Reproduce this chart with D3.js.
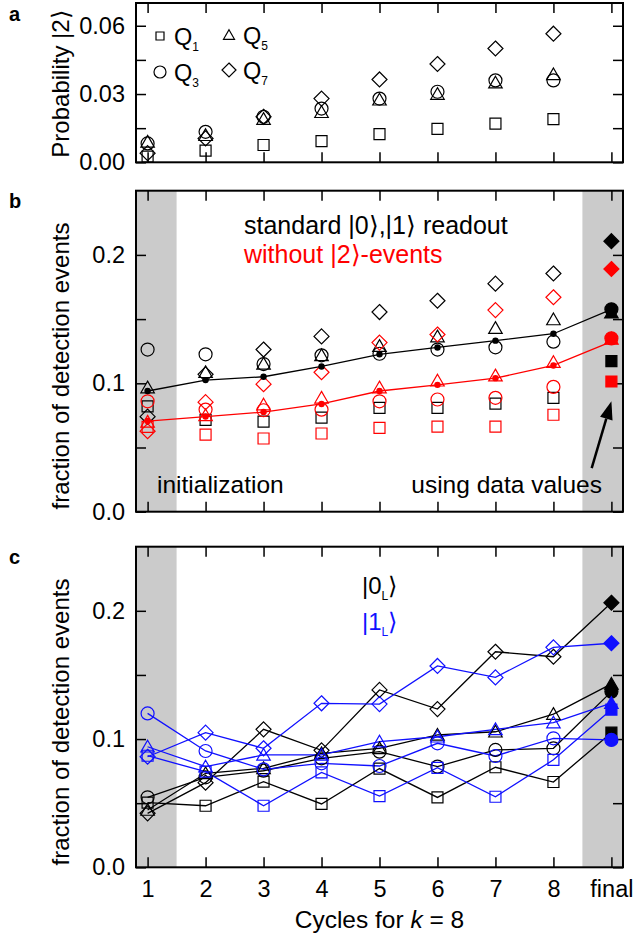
<!DOCTYPE html>
<html>
<head>
<meta charset="utf-8">
<script src="https://cdn.jsdelivr.net/npm/d3@7"></script>
<style>
  html, body { margin: 0; padding: 0; background: #fff; }
  svg { display: block; }
  text { font-family: "Liberation Sans", Arial, Helvetica, sans-serif; fill: #000; }
</style>
</head>
<body>
<svg id="chart" width="634" height="934"></svg>
<script>
// ---- cycle axis ----
const cycles = [1, 2, 3, 4, 5, 6, 7, 8, 9];
const cycleLabels = ["1", "2", "3", "4", "5", "6", "7", "8", "final"];

// ---- (a) leakage probability per qubit, cycles 1..8 ----
const probQ1 = [0.0025, 0.0051, 0.0076, 0.0093, 0.0124, 0.0147, 0.0170, 0.0190];
const probQ3 = [0.0083, 0.0134, 0.0200, 0.0236, 0.0280, 0.0310, 0.0360, 0.0360];
const probQ5 = [0.0090, 0.0119, 0.0190, 0.0220, 0.0275, 0.0300, 0.0350, 0.0386];
const probQ7 = [0.0040, 0.0105, 0.0200, 0.0280, 0.0364, 0.0432, 0.0500, 0.0565];

// ---- (b) detection fraction, standard |0>,|1> readout (cycles 1..8, final) ----
const stdQ1 = [0.0821, 0.0715, 0.0702, 0.0733, 0.0808, 0.0808, 0.0842, 0.0887, 0.1173];
const stdQ3 = [0.1263, 0.1226, 0.1150, 0.1218, 0.1230, 0.1263, 0.1280, 0.1324, 0.1576];
const stdQ5 = [0.0967, 0.1086, 0.1152, 0.1218, 0.1290, 0.1364, 0.1430, 0.1497, 0.1550];
const stdQ7 = [0.0740, 0.1070, 0.1263, 0.1365, 0.1555, 0.1643, 0.1776, 0.1855, 0.2107];
const stdMean = [0.0940, 0.1025, 0.1051, 0.1131, 0.1226, 0.1279, 0.1332, 0.1386, 0.1576];

// ---- (b) detection fraction without |2>-events ----
const noQ1 = [0.0660, 0.0600, 0.0570, 0.0609, 0.0653, 0.0662, 0.0662, 0.0755, 0.1014];
const noQ3 = [0.0860, 0.0795, 0.0790, 0.0795, 0.0860, 0.0874, 0.0887, 0.0972, 0.1350];
const noQ5 = [0.0700, 0.0750, 0.0834, 0.0887, 0.0967, 0.1020, 0.1060, 0.1165, 0.1345];
const noQ7 = [0.0627, 0.0853, 0.0993, 0.1086, 0.1317, 0.1380, 0.1570, 0.1670, 0.1890];
const noMean = [0.0706, 0.0741, 0.0776, 0.0839, 0.0940, 0.0988, 0.1040, 0.1139, 0.1324];

// ---- (c) detection fraction for logical |0_L> ----
const zeroQ1 = [0.0504, 0.0480, 0.0668, 0.0494, 0.0770, 0.0545, 0.0780, 0.0665, 0.1050];
const zeroQ3 = [0.0546, 0.0702, 0.0753, 0.0850, 0.0902, 0.0785, 0.0915, 0.0928, 0.1370];
const zeroQ5 = [0.0447, 0.0733, 0.0772, 0.0889, 0.0928, 0.1032, 0.1057, 0.1195, 0.1430];
const zeroQ7 = [0.0421, 0.0660, 0.1076, 0.0912, 0.1383, 0.1234, 0.1681, 0.1642, 0.2063];

// ---- (c) detection fraction for logical |1_L> ----
const oneQ1 = [0.0870, 0.0746, 0.0480, 0.0740, 0.0555, 0.0776, 0.0550, 0.0838, 0.1230];
const oneQ3 = [0.1200, 0.0907, 0.0764, 0.0811, 0.0790, 0.0967, 0.0868, 0.1006, 0.0993];
const oneQ5 = [0.0940, 0.0785, 0.0876, 0.0876, 0.0980, 0.1018, 0.1076, 0.1128, 0.1280];
const oneQ7 = [0.0862, 0.1050, 0.0928, 0.1279, 0.1273, 0.1570, 0.1481, 0.1715, 0.1747];

const yTicksA = [0, 0.015, 0.03, 0.045, 0.06];
const yTicksBC = [0, 0.05, 0.1, 0.15, 0.2];

const RED = "#ff0000", BLUE = "#1010ff", BLACK = "#000000";

const svg = d3.select("#chart");

const x = d3.scaleLinear().domain([0.8, 9.2]).range([136, 623]);

const panels = {
  a: { top: 3, bottom: 162.3, domain: [0, 0.07] },
  b: { top: 190.7, bottom: 511.7, domain: [0, 0.25] },
  c: { top: 546.7, bottom: 867.3, domain: [0, 0.25] }
};
for (const k in panels) {
  const p = panels[k];
  p.y = d3.scaleLinear().domain(p.domain).range([p.bottom, p.top]);
}

// marker outlines, centred on the data point
function shapePath(type, size) {
  const h = size / 2;
  if (type === "square") return `M${-h},${-h}H${h}V${h}H${-h}Z`;
  if (type === "circle") return `M${h},0A${h},${h} 0 1,1 ${-h},0A${h},${h} 0 1,1 ${h},0Z`;
  if (type === "triangle") {
    const th = size * 0.866;
    return `M0,${-th * 0.55}L${h},${th * 0.45}L${-h},${th * 0.45}Z`;
  }
  if (type === "diamond") return `M0,${-h}L${h},0L0,${h}L${-h},0Z`;
  return "";
}
const markerSize = { square: 11, circle: 13, triangle: 13.5, diamond: 15 };

function drawMarkers(g, p, values, type, color, filledLast) {
  g.selectAll(null)
    .data(values.map((v, i) => ({ c: cycles[i], v, last: filledLast && i === values.length - 1 })))
    .join("path")
    .attr("d", shapePath(type, markerSize[type]))
    .attr("transform", d => `translate(${x(d.c)},${p.y(d.v)})`)
    .attr("fill", d => d.last ? color : "none")
    .attr("stroke", color)
    .attr("stroke-width", 1.2);
}

function drawLine(g, p, values, color) {
  const line = d3.line().x((d, i) => x(cycles[i])).y(d => p.y(d));
  g.append("path").attr("d", line(values))
    .attr("fill", "none").attr("stroke", color).attr("stroke-width", 1.3);
}

function drawFrame(p, yTicks, majorFmt, showX, grayBands) {
  const g = svg.append("g");
  if (grayBands) {
    [[0.8, 1.5], [8.5, 9.2]].forEach(([a, b]) => {
      g.append("rect").attr("x", x(a)).attr("y", p.top)
        .attr("width", x(b) - x(a)).attr("height", p.bottom - p.top)
        .attr("fill", "#cbcbcb");
    });
  }
  const left = d3.axisLeft(p.y).tickValues(yTicks).tickSizeInner(-10).tickSizeOuter(0).tickPadding(11).tickFormat(majorFmt);
  const right = d3.axisRight(p.y).tickValues(yTicks).tickSizeInner(-10).tickSizeOuter(0).tickFormat("");
  const bottom = d3.axisBottom(x).tickValues(cycles).tickSizeInner(-10).tickSizeOuter(0).tickPadding(13)
    .tickFormat(showX ? ((d, i) => cycleLabels[i]) : "");
  const top = d3.axisTop(x).tickValues(cycles).tickSizeInner(-10).tickSizeOuter(0).tickFormat("");
  const axes = [
    g.append("g").attr("transform", `translate(${x.range()[0]},0)`).call(left),
    g.append("g").attr("transform", `translate(${x.range()[1]},0)`).call(right),
    g.append("g").attr("transform", `translate(0,${p.bottom})`).call(bottom),
    g.append("g").attr("transform", `translate(0,${p.top})`).call(top)
  ];
  axes.forEach(a => {
    a.select(".domain").remove();
    a.selectAll(".tick line").attr("stroke", "#000").attr("stroke-width", 1.5);
    a.selectAll(".tick text").attr("font-size", 23.5).attr("font-family", "Liberation Sans, Arial, sans-serif").attr("fill", "#000");
  });
  return g;
}

function drawBorder(p) {
  svg.append("rect").attr("x", x.range()[0]).attr("y", p.top)
    .attr("width", x.range()[1] - x.range()[0]).attr("height", p.bottom - p.top)
    .attr("fill", "none").attr("stroke", "#000").attr("stroke-width", 2);
}

function yLabel(text, cx, cy) {
  return svg.append("text")
    .attr("transform", `translate(${cx},${cy}) rotate(-90)`)
    .attr("text-anchor", "middle").attr("font-size", 24).text(text);
}

function panelLetter(t, px, py) {
  svg.append("text").attr("x", px).attr("y", py).attr("font-size", 20)
    .attr("font-weight", "bold").text(t);
}

// ================= panel a =================
{
  const p = panels.a;
  const majors = [0, 0.03, 0.06];
  drawFrame(p, yTicksA, v => majors.some(m => Math.abs(m - v) < 1e-9) ? d3.format(".2f")(v) : "", false, false);
  const g = svg.append("g");
  drawMarkers(g, p, probQ1, "square", BLACK, false);
  drawMarkers(g, p, probQ3, "circle", BLACK, false);
  drawMarkers(g, p, probQ5, "triangle", BLACK, false);
  drawMarkers(g, p, probQ7, "diamond", BLACK, false);
  drawBorder(p);
  yLabel("Probability |2\u27E9", 69, 84);
  panelLetter("a", 9, 21);

  // legend
  const leg = svg.append("g");
  const items = [
    { type: "square", size: 8, sub: "1", lx: 160, ly: 36 },
    { type: "triangle", size: 11, sub: "5", lx: 229, ly: 35 },
    { type: "circle", size: 12, sub: "3", lx: 160, ly: 72 },
    { type: "diamond", size: 14, sub: "7", lx: 229, ly: 70 }
  ];
  items.forEach(it => {
    leg.append("path").attr("d", shapePath(it.type, it.size))
      .attr("transform", `translate(${it.lx},${it.ly})`)
      .attr("fill", "none").attr("stroke", "#000").attr("stroke-width", 1.2);
    const t = leg.append("text").attr("x", it.lx + 14).attr("y", it.ly + 9).attr("font-size", 23.5);
    t.append("tspan").text("Q");
    t.append("tspan").attr("font-size", 12).attr("dy", 6).text(it.sub);
  });
}

// ================= panel b =================
{
  const p = panels.b;
  drawFrame(p, yTicksBC, v => [0, 0.1, 0.2].some(m => Math.abs(m - v) < 1e-9) ? d3.format(".1f")(v) : "", false, true);
  const g = svg.append("g");
  drawMarkers(g, p, stdQ1, "square", BLACK, true);
  drawMarkers(g, p, stdQ3, "circle", BLACK, true);
  drawMarkers(g, p, stdQ5, "triangle", BLACK, true);
  drawMarkers(g, p, stdQ7, "diamond", BLACK, true);
  drawMarkers(g, p, noQ1, "square", RED, true);
  drawMarkers(g, p, noQ3, "circle", RED, true);
  drawMarkers(g, p, noQ5, "triangle", RED, true);
  drawMarkers(g, p, noQ7, "diamond", RED, true);
  drawLine(g, p, stdMean, BLACK);
  drawLine(g, p, noMean, RED);
  [[stdMean, BLACK], [noMean, RED]].forEach(([vals, col]) => {
    g.selectAll(null).data(vals).join("circle")
      .attr("cx", (d, i) => x(cycles[i])).attr("cy", d => p.y(d))
      .attr("r", 3.2).attr("fill", col);
  });
  drawBorder(p);

  svg.append("text").attr("x", 244).attr("y", 234).attr("font-size", 25)
    .text("standard |0\u27E9,|1\u27E9 readout");
  svg.append("text").attr("x", 244).attr("y", 263).attr("font-size", 25)
    .style("fill", RED).text("without |2\u27E9-events");
  svg.append("text").attr("x", 157).attr("y", 493).attr("font-size", 24.5).text("initialization");
  svg.append("text").attr("x", 602).attr("y", 493).attr("font-size", 24.5)
    .attr("text-anchor", "end").text("using data values");

  // arrow pointing at the final-cycle markers
  const tail = [x(8.66), p.y(0.034)], tip = [x(9.0), p.y(0.086)];
  const ang = Math.atan2(tip[1] - tail[1], tip[0] - tail[0]);
  const headLen = 18, headW = 6.5;
  const base = [tip[0] - headLen * Math.cos(ang), tip[1] - headLen * Math.sin(ang)];
  svg.append("line").attr("x1", tail[0]).attr("y1", tail[1]).attr("x2", base[0]).attr("y2", base[1])
    .attr("stroke", "#000").attr("stroke-width", 2.5);
  svg.append("path").attr("d",
    `M${tip[0]},${tip[1]}L${base[0] + headW * Math.sin(ang)},${base[1] - headW * Math.cos(ang)}L${base[0] - headW * Math.sin(ang)},${base[1] + headW * Math.cos(ang)}Z`)
    .attr("fill", "#000");

  yLabel("fraction of detection events", 69, 366);
  panelLetter("b", 9, 208);
}

// ================= panel c =================
{
  const p = panels.c;
  drawFrame(p, yTicksBC, v => [0, 0.1, 0.2].some(m => Math.abs(m - v) < 1e-9) ? d3.format(".1f")(v) : "", true, true);
  const g = svg.append("g");
  const series = [
    [zeroQ1, "square", BLACK], [zeroQ3, "circle", BLACK], [zeroQ5, "triangle", BLACK], [zeroQ7, "diamond", BLACK],
    [oneQ1, "square", BLUE], [oneQ3, "circle", BLUE], [oneQ5, "triangle", BLUE], [oneQ7, "diamond", BLUE]
  ];
  series.forEach(([vals, , col]) => drawLine(g, p, vals, col));
  series.forEach(([vals, type, col]) => drawMarkers(g, p, vals, type, col, true));
  drawBorder(p);

  const l0 = svg.append("text").attr("x", 362).attr("y", 594).attr("font-size", 24);
  l0.append("tspan").text("|0");
  l0.append("tspan").attr("font-size", 12).attr("dy", 6).text("L");
  l0.append("tspan").attr("dy", -6).text("\u27E9");
  const l1 = svg.append("text").attr("x", 362).attr("y", 630).attr("font-size", 24).style("fill", BLUE);
  l1.append("tspan").text("|1");
  l1.append("tspan").attr("font-size", 12).attr("dy", 6).text("L");
  l1.append("tspan").attr("dy", -6).text("\u27E9");

  yLabel("fraction of detection events", 69, 722);
  panelLetter("c", 9, 564);

  const xl = svg.append("text").attr("x", (x.range()[0] + x.range()[1]) / 2).attr("y", 928)
    .attr("text-anchor", "middle").attr("font-size", 24.5);
  xl.append("tspan").text("Cycles for ");
  xl.append("tspan").attr("font-style", "italic").text("k");
  xl.append("tspan").text(" = 8");
}
</script>
</body>
</html>
